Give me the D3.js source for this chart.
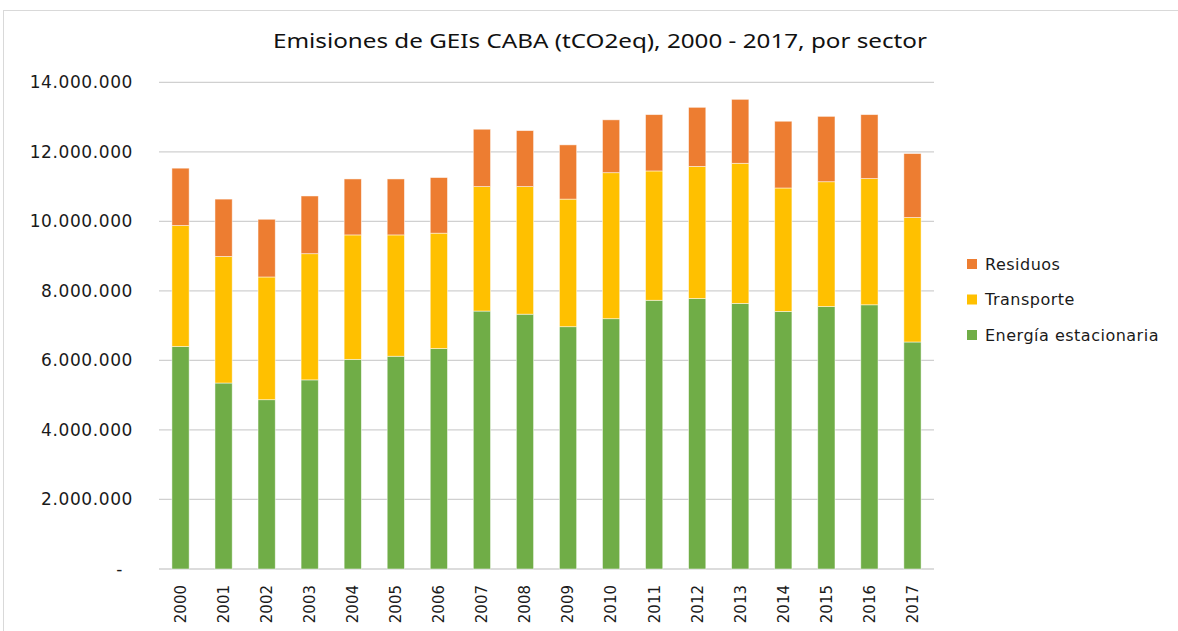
<!DOCTYPE html>
<html>
<head>
<meta charset="utf-8">
<script src="https://cdn.jsdelivr.net/npm/d3@7"></script>
<style>
  body { margin: 0; background: #fff; }
</style>
</head>
<body>
<script>
// data (tCO2eq)
var years = ["2000","2001","2002","2003","2004","2005","2006","2007","2008",
             "2009","2010","2011","2012","2013","2014","2015","2016","2017"];
var energia = [6400000, 5350000, 4870000, 5440000, 6030000, 6120000, 6340000, 7420000, 7330000,
               6970000, 7200000, 7730000, 7780000, 7640000, 7410000, 7550000, 7600000, 6530000];
var transporte = [3480000, 3640000, 3530000, 3630000, 3580000, 3490000, 3320000, 3580000, 3670000,
                  3670000, 4200000, 3720000, 3800000, 4030000, 3550000, 3590000, 3630000, 3580000];
var residuos = [1650000, 1650000, 1660000, 1660000, 1610000, 1610000, 1600000, 1650000, 1610000,
                1560000, 1520000, 1620000, 1700000, 1840000, 1920000, 1880000, 1840000, 1840000];
var yTicks = [0, 2000000, 4000000, 6000000, 8000000, 10000000, 12000000, 14000000];
var seriesNames = ["Energía estacionaria", "Transporte", "Residuos"];
var colors = ["#70AD47", "#FFC000", "#ED7D31"];

var w = 1178, h = 631;
var pLeft = 159, pRight = 934, pTop = 82.3, pBottom = 569;

var svg = d3.select("body").append("svg")
  .attr("width", w)
  .attr("height", h);

// chart border
svg.append("rect")
  .attr("x", 3.5).attr("y", 10.5)
  .attr("width", w).attr("height", h)
  .attr("fill", "none")
  .attr("stroke", "#d9d9d9");

// title
svg.append("text")
  .attr("x", 600).attr("y", 48)
  .attr("text-anchor", "middle")
  .attr("font-family", "Noto Sans")
  .attr("font-size", "20px")
  .attr("textLength", 654)
  .attr("lengthAdjust", "spacingAndGlyphs")
  .attr("fill", "#111")
  .text("Emisiones de GEIs CABA (tCO2eq), 2000 - 2017, por sector");

var x = d3.scaleBand()
  .domain(years)
  .range([pLeft, pRight])
  .paddingInner(0.6)
  .paddingOuter(0.3);

var y = d3.scaleLinear()
  .domain([0, 14000000])
  .range([pBottom, pTop]);

// gridlines
svg.append("g")
  .selectAll("line")
  .data(yTicks)
  .enter()
  .append("line")
  .attr("x1", pLeft)
  .attr("x2", pRight)
  .attr("y1", function(d) { return y(d); })
  .attr("y2", function(d) { return y(d); })
  .attr("stroke", "#d0d0d0")
  .attr("stroke-width", 1.3);

// y axis labels
var fmt = function(d) {
  if (d === 0) return "-";
  return d3.format(",")(d).replace(/,/g, ".");
};
var yAxis = d3.axisLeft(y)
  .tickValues(yTicks)
  .tickSize(0)
  .tickPadding(26)
  .tickFormat(fmt);
var ya = svg.append("g")
  .attr("transform", "translate(" + pLeft + ",0)")
  .call(yAxis);
ya.select(".domain").remove();
ya.selectAll("text")
  .attr("font-family", "DejaVu Sans")
  .attr("font-size", "17px")
  .attr("letter-spacing", "0.6px")
  .attr("fill", "#1a1a1a")
  .attr("dx", function(d) { return d === 0 ? -10 : 0; });

// stacked bars
var table = years.map(function(yr, i) {
  return { year: yr, e: energia[i], t: transporte[i], r: residuos[i] };
});
var stack = d3.stack().keys(["e", "t", "r"]);
var layers = stack(table);

svg.append("g")
  .selectAll("g")
  .data(layers)
  .enter()
  .append("g")
  .attr("fill", function(d, i) { return colors[i]; })
  .selectAll("rect")
  .data(function(d) { return d; })
  .enter()
  .append("rect")
  .attr("x", function(d) { return x(d.data.year); })
  .attr("width", x.bandwidth())
  .attr("y", function(d) { return y(d[1]); })
  .attr("height", function(d) { return y(d[0]) - y(d[1]); })
  .attr("stroke", "#fff")
  .attr("stroke-opacity", 0.6)
  .attr("stroke-width", 0.8);

// x axis labels
var xAxis = d3.axisBottom(x).tickSize(0);
var xa = svg.append("g")
  .attr("transform", "translate(0," + pBottom + ")")
  .call(xAxis);
xa.select(".domain").remove();
xa.selectAll("text")
  .attr("font-family", "DejaVu Sans")
  .attr("font-size", "15px")
  .attr("fill", "#1a1a1a")
  .attr("text-anchor", "end")
  .attr("transform", "rotate(-90)")
  .attr("x", -16)
  .attr("y", 0)
  .attr("dy", "0.36em");

// legend (top to bottom: Residuos, Transporte, Energía)
var legendOrder = [2, 1, 0];
var lg = svg.append("g");
var rows = lg.selectAll("g")
  .data(legendOrder)
  .enter()
  .append("g")
  .attr("transform", function(d, i) { return "translate(967," + (264 + i * 35.5) + ")"; });
rows.append("rect")
  .attr("x", 0).attr("y", -5)
  .attr("width", 10).attr("height", 10)
  .attr("fill", function(d) { return colors[d]; });
rows.append("text")
  .attr("x", 18)
  .attr("dy", "0.36em")
  .attr("font-family", "DejaVu Sans")
  .attr("font-size", "16px")
  .attr("letter-spacing", "0.5px")
  .attr("fill", "#1a1a1a")
  .text(function(d) { return seriesNames[d]; });
</script>
</body>
</html>
